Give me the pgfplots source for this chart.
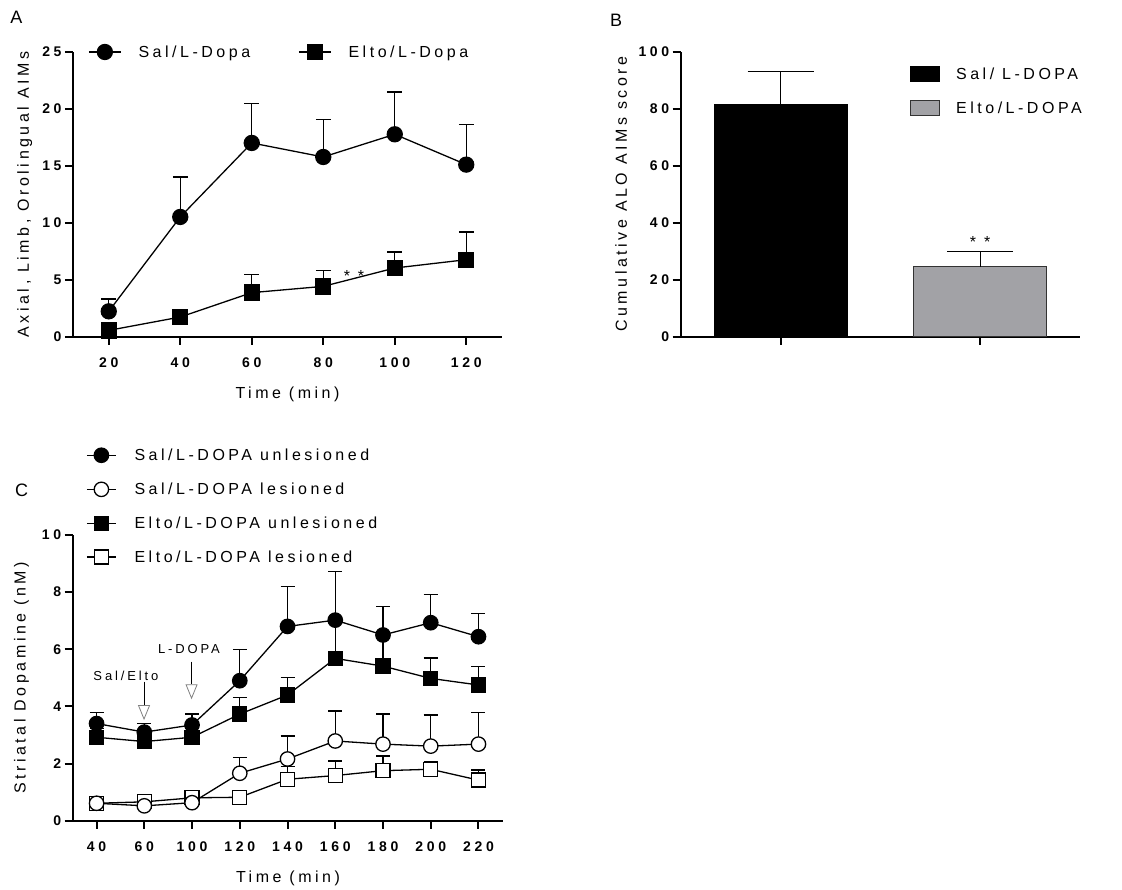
\documentclass[border=0pt]{standalone}
\usepackage{fontspec}
\setmainfont{Liberation Sans}
\usepackage{pgfplots}
\pgfplotsset{compat=1.18}
\usepackage{pgfplotstable}
\usetikzlibrary{arrows.meta}
\newfontfamily\lblfam[LetterSpace=22]{Liberation Sans}
\newfontfamily\tckfam[LetterSpace=26]{Liberation Sans}
\newfontfamily\legfam[LetterSpace=22]{Liberation Sans}
\newcommand\lblf{\lblfam\fontsize{16}{18}\selectfont}
\newcommand\tickf{\tckfam\bfseries\fontsize{14}{16}\selectfont}
\newcommand\legf{\legfam\fontsize{16}{18}\selectfont}
\newcommand\annf{\lblfam\fontsize{13}{15}\selectfont}
\newcommand\panf{\fontsize{18}{20}\selectfont}
\definecolor{barGray}{RGB}{162,162,166}

\pgfplotstableread{
x y e
20 2.25 1.08
40 10.53 3.50
60 17.02 3.45
80 15.79 3.27
100 17.78 3.71
120 15.12 3.53
}\salA
\pgfplotstableread{
x y e
20 0.58 0.30
40 1.75 0.30
60 3.89 1.58
80 4.44 1.41
100 6.05 1.41
120 6.78 2.43
}\eltoA
\pgfplotstableread{
x y e
0 3.40 0.38
1 3.10 0.31
2 3.35 0.38
3 4.90 1.10
4 6.80 1.40
5 7.02 1.70
6 6.50 1.00
7 6.93 0.98
8 6.44 0.82
}\salU
\pgfplotstableread{
x y e
0 2.92 0.30
1 2.77 0.30
2 2.92 0.30
3 3.73 0.59
4 4.40 0.60
5 5.68 1.32
6 5.41 1.00
7 4.98 0.71
8 4.75 0.64
}\eltoU
\pgfplotstableread{
x y e
0 0.61 0.10
1 0.52 0.10
2 0.63 0.10
3 1.66 0.56
4 2.16 0.80
5 2.79 1.05
6 2.68 1.05
7 2.61 1.09
8 2.68 1.10
}\salL
\pgfplotstableread{
x y e
0 0.61 0.05
1 0.66 0.05
2 0.80 0.05
3 0.82 0.05
4 1.45 0.44
5 1.58 0.51
6 1.75 0.51
7 1.80 0.27
8 1.42 0.35
}\eltoL

\pgfplotsset{
  gp/.style={scale only axis, anchor=south west,
    axis x line*=bottom, axis y line*=left,
    axis line style={line width=2pt},
    tick align=outside, major tick length=8pt,
    tick style={line width=2pt, black},
    tick label style={font=\tickf},
    xticklabel shift=9pt, yticklabel shift=0pt,
    /pgf/number format/assume math mode=true,
    label style={font=\lblf},
    clip=false, legend cell align=left,
    xlabel style={at={(axis description cs:0.5,0)}, anchor=base, yshift=-62pt},
  },
  errb/.style={error bars/.cd, y dir=plus, y explicit, error mark=|,
    error bar style={black, line width=1.3pt},
    error mark options={black, line width=1.3pt, mark size=#1}},
}

\begin{document}
\begin{tikzpicture}
\useasboundingbox (0,0) rectangle (1122pt,890pt);

% Panel A
\begin{axis}[gp, at={(73pt,553pt)}, width=429pt, height=285pt,
  xmin=10, xmax=130, ymin=0, ymax=25,
  xtick={20,40,60,80,100,120}, ytick={0,5,10,15,20,25},
  xlabel={Time (min)}, ylabel={Axial, Limb, Orolingual AIMs},
  ylabel style={at={(axis description cs:-0.1026,0.5)}, anchor=base},
  legend columns=2,
  legend style={draw=none, fill=none, inner sep=0pt, nodes={inner sep=0pt}, font=\legf,
    at={(axis description cs:0.035,1)}, anchor=west,
    /tikz/every odd column/.append style={column sep=17pt},
    /tikz/every even column/.append style={column sep=48pt}},
  legend image code/.code={\draw[mark repeat=2,mark phase=2,#1] plot coordinates {(0pt,0pt) (16pt,0pt) (32pt,0pt)};}]
\addplot[black, line width=1.3pt, mark=*, mark size=7.5pt, mark options={solid,fill=black}, errb=7.5pt]
  table[x=x, y=y, y error=e]{\salA};
\addlegendentry{Sal/L-Dopa}
\addplot[black, line width=1.3pt, mark=square*, mark size=7.5pt, mark options={solid,fill=black}, errb=7.5pt]
  table[x=x, y=y, y error=e]{\eltoA};
\addlegendentry{Elto/L-Dopa}
\node[font=\lblf, anchor=base] at (axis cs:88.6,4.88) {* *};
\end{axis}

% Panel B
\begin{axis}[gp, at={(680.7pt,553.3pt)}, width=399.3pt, height=285pt,
  xmin=-0.5, xmax=1.5, ymin=0, ymax=100,
  xtick={0,1}, xticklabels={,}, ytick={0,20,40,60,80,100},
  ylabel={Cumulative ALO AIMs score},
  ylabel style={at={(axis description cs:-0.1345,0.5)}, anchor=base},
  legend style={draw=none, fill=none, inner sep=0pt, nodes={inner sep=0pt}, font=\legf,
    at={(axis description cs:0.574,0.95)}, anchor=north west, /tikz/row sep=18pt,
    /tikz/every odd column/.append style={column sep=16pt}}]
\addplot[ybar, bar width=133pt, bar shift=0pt, fill=black, draw=black, line width=1pt,
  legend image code/.code={\draw[fill=black, draw=black, line width=1pt] (0pt,-7.5pt) rectangle (29pt,7.5pt);},
  errb=33pt] coordinates {(0,81.3) +- (0,11.7)};
\addlegendentry{Sal/ L-DOPA}
\addplot[ybar, bar width=133pt, bar shift=0pt, fill=barGray, draw=black!80, line width=1pt,
  legend image code/.code={\draw[fill=barGray, draw=black!80, line width=1pt] (0pt,-7.5pt) rectangle (29pt,7.5pt);},
  errb=33pt] coordinates {(1,24.6) +- (0,5.2)};
\addlegendentry{Elto/L-DOPA}
\node[font=\lblf, anchor=base] at (axis cs:1,31.4) {* *};
\end{axis}

% Panel C
\begin{axis}[gp, at={(72.7pt,69.3pt)}, width=430.6pt, height=285.7pt,
  xmin=-0.5, xmax=8.52, ymin=0, ymax=10,
  xtick={0,1,2,3,4,5,6,7,8}, xticklabels={40,60,100,120,140,160,180,200,220},
  ytick={0,2,4,6,8,10},
  xlabel={Time (min)}, ylabel={Striatal Dopamine (nM)},
  ylabel style={at={(axis description cs:-0.1096,0.5)}, anchor=base},
  legend style={draw=none, fill=none, inner sep=0pt, nodes={inner sep=0pt}, font=\legf,
    at={(axis description cs:0.031,1.305)}, anchor=north west, /tikz/row sep=19.7pt,
    /tikz/every odd column/.append style={column sep=18pt}},
  legend image code/.code={\draw[mark repeat=2,mark phase=2,#1] plot coordinates {(0pt,0pt) (14.5pt,0pt) (29pt,0pt)};}]
\addplot[black, line width=1.3pt, mark=*, mark size=7.2pt, mark options={solid,fill=black}, errb=7pt]
  table[x=x, y=y, y error=e]{\salU};
\addlegendentry{Sal/L-DOPA unlesioned}
\addlegendimage{black, line width=1.3pt, mark=*, mark size=7.2pt, mark options={solid,fill=white}}
\addlegendentry{Sal/L-DOPA lesioned}
\addplot[black, line width=1.3pt, mark=square*, mark size=7pt, mark options={solid,fill=black}, errb=7pt]
  table[x=x, y=y, y error=e]{\eltoU};
\addlegendentry{Elto/L-DOPA unlesioned}
\addplot[black, line width=1.3pt, mark=square*, mark size=7pt, mark options={solid,fill=white}, errb=7pt]
  table[x=x, y=y, y error=e]{\eltoL};
\addlegendentry{Elto/L-DOPA lesioned}
\addplot[forget plot, black, line width=1.3pt, mark=*, mark size=7.2pt, mark options={solid,fill=white}, errb=7pt]
  table[x=x, y=y, y error=e]{\salL};
\node[font=\annf, anchor=base] at (axis cs:0.614,4.9) {Sal/Elto};
\node[font=\annf, anchor=base] at (axis cs:1.935,5.85) {L-DOPA};
\draw[line width=1pt, -{Triangle[open, length=15pt, width=12pt, color=gray, line width=0.8pt]}]
  (axis cs:0.994,4.87) -- (axis cs:0.994,3.52);
\draw[line width=1pt, -{Triangle[open, length=15pt, width=12pt, color=gray, line width=0.8pt]}]
  (axis cs:1.99,5.57) -- (axis cs:1.99,4.25);
\end{axis}

\node[font=\panf] at (16.5pt,873pt) {A};
\node[font=\panf] at (616pt,870pt) {B};
\node[font=\panf] at (21.5pt,400pt) {C};
\end{tikzpicture}
\end{document}
